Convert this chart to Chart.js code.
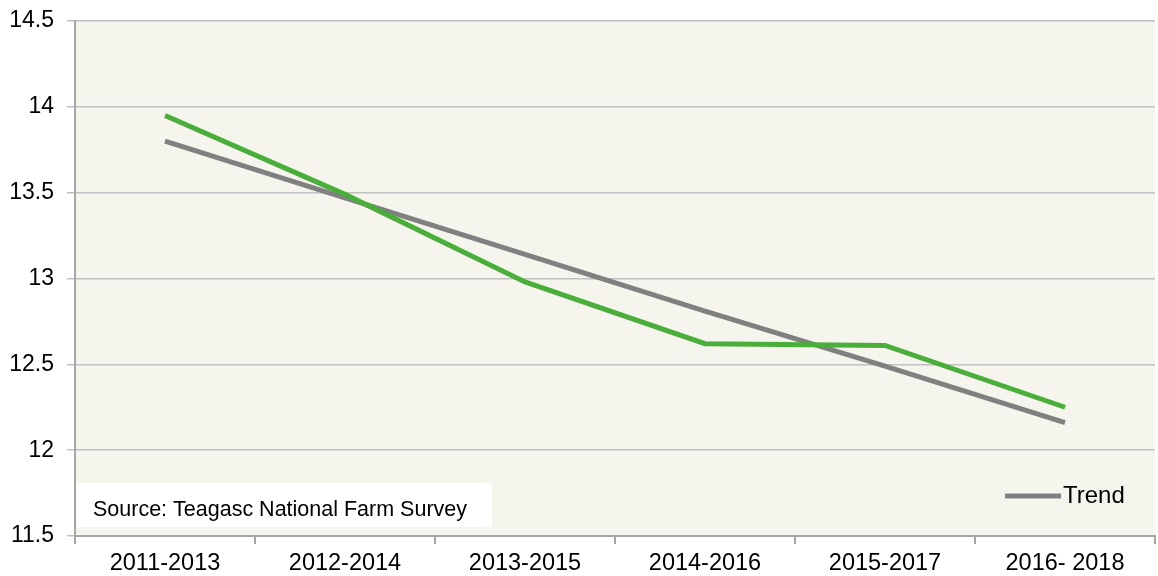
<!DOCTYPE html>
<html>
<head>
<meta charset="utf-8">
<script src="https://cdn.jsdelivr.net/npm/chart.js@4"></script>
<style>
  html, body { margin: 0; padding: 0; background: #ffffff; }
  #wrap { width: 1158px; height: 576px; }
</style>
</head>
<body>
<div id="wrap"><canvas id="farmChart" width="1158" height="576"></canvas></div>
<script>
// Data
const periodLabels = ["2011-2013", "2012-2014", "2013-2015", "2014-2016", "2015-2017", "2016- 2018"];
const surveyValues = [13.95, 13.49, 12.98, 12.62, 12.61, 12.25];
const trendValues = [13.80, 13.47, 13.14, 12.81, 12.49, 12.16];
const yTicks = [11.5, 12, 12.5, 13, 13.5, 14, 14.5];
const sourceText = "Source: Teagasc National Farm Survey";

const fontFamily = "'Liberation Sans', Arial, sans-serif";

// plot background, source box and the single "Trend" legend entry
const extras = {
  id: "extras",
  beforeDraw(chart) {
    const { ctx, chartArea } = chart;
    ctx.save();
    ctx.fillStyle = "#f5f4ed";
    ctx.fillRect(chartArea.left, chartArea.top, chartArea.right - chartArea.left, chartArea.bottom - chartArea.top);
    ctx.restore();
  },
  afterDraw(chart) {
    const { ctx } = chart;
    ctx.save();
    // source box
    ctx.fillStyle = "#ffffff";
    ctx.fillRect(77, 483, 415, 44);
    ctx.fillStyle = "#000000";
    ctx.font = "21.5px " + fontFamily;
    ctx.textBaseline = "alphabetic";
    ctx.fillText(sourceText, 93, 516);

    // legend: Trend
    const trend = chart.data.datasets[1];
    ctx.strokeStyle = trend.borderColor;
    ctx.lineWidth = trend.borderWidth;
    ctx.beginPath();
    ctx.moveTo(1005, 496);
    ctx.lineTo(1061, 496);
    ctx.stroke();
    ctx.fillStyle = "#000000";
    ctx.font = "24px " + fontFamily;
    ctx.textBaseline = "middle";
    ctx.fillText(trend.label, 1063, 496);
    ctx.restore();
  },
};

new Chart(document.getElementById("farmChart"), {
  type: "line",
  data: {
    labels: periodLabels,
    datasets: [
      {
        label: "Family Farm Income",
        data: surveyValues,
        borderColor: "#4aae3a",
        borderWidth: 5,
        pointRadius: 0,
        tension: 0,
        borderCapStyle: "butt",
      },
      {
        label: "Trend",
        data: trendValues,
        borderColor: "#808080",
        borderWidth: 5,
        pointRadius: 0,
        tension: 0,
        borderCapStyle: "butt",
      },
    ],
  },
  options: {
    responsive: false,
    animation: false,
    layout: { padding: { top: 21, right: 3, left: 0, bottom: 0 } },
    plugins: {
      legend: { display: false },
      tooltip: { enabled: false },
    },
    scales: {
      x: {
        offset: true,
        grid: {
          offset: true,
          drawOnChartArea: false,
          drawTicks: true,
          tickLength: 8,
          color: "#a6a6a6",
          lineWidth: 2,
        },
        border: { color: "#a6a6a6", width: 2 },
        ticks: {
          color: "#000000",
          font: { family: fontFamily, size: 23.5 },
          padding: 5,
          maxRotation: 0,
        },
        afterFit(scale) {
          scale.height = 40;
        },
      },
      y: {
        min: 11.5,
        max: 14.5,
        afterBuildTicks(scale) {
          scale.ticks = yTicks.map((v) => ({ value: v }));
        },
        grid: {
          color: "#c0c0c0",
          lineWidth: 1.5,
          drawTicks: true,
          tickLength: 8,
        },
        border: { color: "#a6a6a6", width: 2 },
        ticks: {
          color: "#000000",
          font: { family: fontFamily, size: 23 },
          padding: 13,
          callback: (value) => String(value),
        },
        afterFit(scale) {
          scale.width = 75;
          scale.paddingTop = 0;
          scale.paddingBottom = 0;
        },
      },
    },
  },
  plugins: [extras],
});
</script>
</body>
</html>
